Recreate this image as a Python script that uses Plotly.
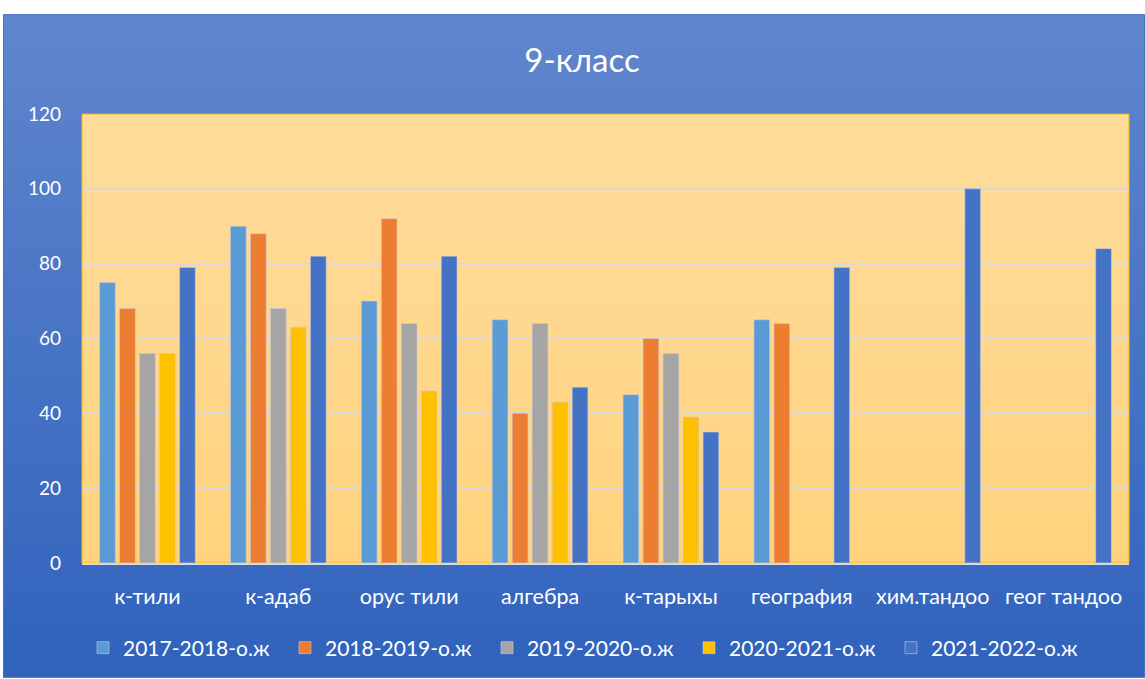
import base64
import plotly.graph_objects as go

categories = ["к-тили", "к-адаб", "орус тили", "алгебра", "к-тарыхы", "география", "хим.тандоо", "геог тандоо"]
series_names = ["2017-2018-о.ж", "2018-2019-о.ж", "2019-2020-о.ж", "2020-2021-о.ж", "2021-2022-о.ж"]
v2017 = [75, 90, 70, 65, 45, 65, None, None]
v2018 = [68, 88, 92, 40, 60, 64, None, None]
v2019 = [56, 68, 64, 64, 56, None, None, None]
v2020 = [56, 63, 46, 43, 39, None, None, None]
v2021 = [79, 82, 82, 47, 35, 79, 100, 84]
y_ticks = [0, 20, 40, 60, 80, 100, 120]

colors = ["#5B9BD5", "#ED7D31", "#A5A5A5", "#FFC000", "#4472C4"]
values = [v2017, v2018, v2019, v2020, v2021]

W, H = 1145, 679
L, R, T, B = 82, 1129, 114, 564  # plot area in pixels
FONT = "Lato, Noto Sans, sans-serif"


def px_x(p):
    return (p - L) / (R - L)


def px_y(p):
    return (B - p) / (B - T)


def svg_grad(top, bottom):
    svg = ('<svg xmlns="http://www.w3.org/2000/svg" width="100" height="100" viewBox="0 0 100 100" '
           'preserveAspectRatio="none"><defs><linearGradient id="g" x1="0" y1="0" x2="0" y2="1">'
           f'<stop offset="0" stop-color="{top}"/><stop offset="1" stop-color="{bottom}"/>'
           '</linearGradient></defs><rect x="0" y="0" width="100" height="100" fill="url(#g)"/></svg>')
    return "data:image/svg+xml;base64," + base64.b64encode(svg.encode()).decode()


fig = go.Figure()
for name, vals, c in zip(series_names, values, colors):
    fig.add_trace(go.Bar(
        x=categories, y=vals, name=name,
        marker=dict(color=c, line=dict(color="rgba(200,200,220,0.6)", width=1)),
    ))

fig.update_layout(
    width=W, height=H,
    margin=dict(l=L, r=W - R, t=T, b=H - B, pad=0),
    paper_bgcolor="white",
    plot_bgcolor="rgba(0,0,0,0)",
    barmode="group",
    bargap=0.236,
    bargroupgap=0.215,
    title=dict(text="9-класс", x=582 / W, xref="container", xanchor="center",
               y=1 - 60 / H, yanchor="middle", yref="container",
               font=dict(family=FONT, size=33, color="white")),
    font=dict(family=FONT, color="white", size=19),
    showlegend=True,
    legend=dict(orientation="h", x=px_x(83), xanchor="left", y=px_y(648), yanchor="middle",
                font=dict(family=FONT, size=21, color="white"),
                entrywidth=157, entrywidthmode="pixels", itemwidth=30,
                bgcolor="rgba(0,0,0,0)", traceorder="normal"),
    images=[
        dict(source=svg_grad("#6086CD", "#3062BC"), xref="paper", yref="paper",
             x=px_x(3), y=px_y(14), sizex=px_x(W) - px_x(3), sizey=px_y(14) - px_y(H),
             xanchor="left", yanchor="top", sizing="stretch", layer="below"),
        dict(source=svg_grad("#FFDC9C", "#FFD37E"), xref="paper", yref="paper",
             x=0, y=1, sizex=1, sizey=1,
             xanchor="left", yanchor="top", sizing="stretch", layer="below"),
    ],
    shapes=[
        dict(type="rect", xref="paper", yref="paper", x0=0, x1=1, y0=0, y1=1,
             line=dict(color="#F5B800", width=1), layer="below"),
        dict(type="rect", xref="paper", yref="paper", x0=px_x(3.5), x1=px_x(W - 0.5),
             y0=px_y(14.5), y1=px_y(H - 0.5),
             line=dict(color="#4470C0", width=1), layer="below"),
    ],
)

fig.update_yaxes(range=[0, 120], tickvals=y_ticks, showgrid=True, gridcolor="#D9D9D9", gridwidth=1.5,
                 zeroline=False, showline=False, ticks="", ticklabelstandoff=20,
                 tickfont=dict(family=FONT, size=19, color="white"))
fig.update_xaxes(showline=True, linecolor="#D9D9D9", linewidth=2, ticks="", ticklabelstandoff=13,
                 tickfont=dict(family=FONT, size=21.5, color="white"))

fig.write_html("out.html", config={"displayModeBar": False},
               post_script="document.body.style.margin='0';document.body.style.overflow='hidden';")
